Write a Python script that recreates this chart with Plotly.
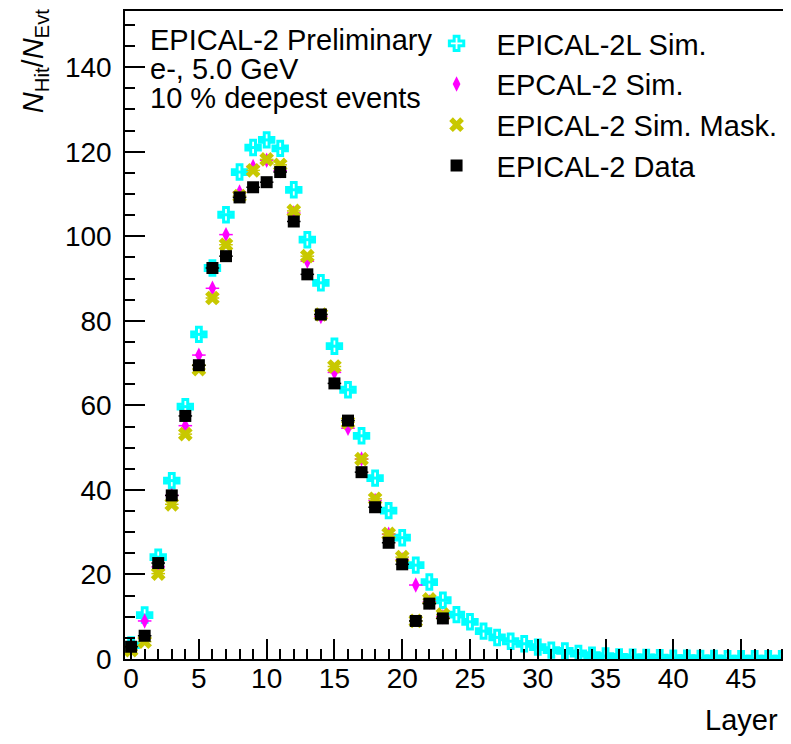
import plotly.graph_objects as go

layers_data = list(range(24))
layers_2l = list(range(49))

sim_2l = [3.3, 10.4, 24.1, 42.2, 59.7, 76.8, 92.5, 105.1, 115.2, 121.0, 122.8, 120.8,
          111.0, 99.2, 89.0, 74.0, 63.7, 52.8, 42.8, 35.1, 28.7, 22.2, 18.2, 13.9,
          10.5, 8.8, 6.6, 5.1, 4.2, 3.6, 2.8, 2.1, 1.9, 1.3, 0.9, 0.7, 0.5, 0.4,
          0.35, 0.3, 0.2, 0.2, 0.15, 0.15, 0.1, 0.1, 0.1, 0.1, 0.1]
sim_2 = [3.0, 9.0, 21.8, 38.7, 55.2, 71.9, 87.7, 100.4, 110.5, 116.5, 118.0, 115.5,
         105.5, 94.1, 81.0, 67.8, 54.6, 47.3, 37.5, 29.5, 23.5, 17.5, 13.5, 10.0]
sim_mask = [2.1, 4.1, 20.2, 36.6, 53.2, 68.6, 85.4, 98.0, 109.5, 115.6, 118.2, 116.9,
            106.0, 95.3, 81.5, 69.2, 56.0, 47.3, 37.9, 29.6, 24.1, 9.0, 14.1, 10.5]
data = [2.9, 5.5, 22.7, 38.7, 57.5, 69.5, 92.5, 95.3, 109.2, 111.6, 112.8, 115.2,
        103.5, 91.0, 81.5, 65.2, 56.4, 44.2, 35.9, 27.5, 22.4, 9.0, 13.1, 9.6]

info_lines = ["EPICAL-2 Preliminary", "e-, 5.0 GeV", "10 % deepest events"]

FONT = "Liberation Sans, Arial, sans-serif"

# page body has an 8px default margin; screen coords -> figure coords
PL, PT, PW, PH = 125, 9, 664, 650  # plot area in screen pixels


def px(xs):
    return (xs - PL) / PW


def py(ys):
    return (PT + PH - ys) / PH


fig = go.Figure()

fig.add_trace(go.Scatter(
    x=layers_2l, y=sim_2l, mode="markers", name="EPICAL-2L Sim.",
    marker=dict(symbol="cross-open", size=12, color="#00ffff",
                line=dict(width=3, color="#00ffff")),
    error_x=dict(type="constant", value=0.5, width=0, thickness=3, color="#00ffff")))
fig.add_trace(go.Scatter(
    x=layers_data, y=sim_2, mode="markers", name="EPCAL-2 Sim.",
    marker=dict(symbol="diamond-tall", size=11, color="#ff00ff", line=dict(width=0)),
    error_x=dict(type="constant", value=0.5, width=0, thickness=1.5, color="#ff00ff")))
fig.add_trace(go.Scatter(
    x=layers_data, y=sim_mask, mode="markers", name="EPICAL-2 Sim. Mask.",
    marker=dict(symbol="x", size=13, color="#c8c800", line=dict(width=0)),
    error_x=dict(type="constant", value=0.5, width=0, thickness=1.5, color="#c8c800")))
fig.add_trace(go.Scatter(
    x=layers_data, y=data, mode="markers", name="EPICAL-2 Data",
    marker=dict(symbol="square", size=12, color="black", line=dict(width=0)),
    error_x=dict(type="constant", value=0.5, width=0, thickness=1.5, color="black")))

annotations = []
for i, t in enumerate(info_lines):
    annotations.append(dict(
        text=t, xref="paper", yref="paper", x=px(148), y=py(38 + 29 * i),
        xanchor="left", yanchor="middle", showarrow=False,
        font=dict(family=FONT, size=29, color="black")))
annotations.append(dict(
    text="<i>N</i><sub>Hit</sub>/<i>N</i><sub>Evt</sub>", textangle=-90,
    xref="paper", yref="paper", x=px(35), y=py(5),
    xanchor="center", yanchor="top", showarrow=False,
    font=dict(family=FONT, size=29, color="black")))
annotations.append(dict(
    text="Layer", xref="paper", yref="paper", x=px(781), y=py(720),
    xanchor="right", yanchor="middle", showarrow=False,
    font=dict(family=FONT, size=29, color="black")))

fig.update_layout(
    width=783, height=736,
    margin=dict(l=PL - 8, r=783 - (PL - 8) - PW, t=PT - 8, b=736 - (PT - 8) - PH),
    paper_bgcolor="white", plot_bgcolor="white",
    font=dict(family=FONT, size=28, color="black"),
    showlegend=True,
    legend=dict(x=px(417), y=py(16), xanchor="left", yanchor="top",
                bgcolor="rgba(0,0,0,0)", itemwidth=70, tracegroupgap=0,
                font=dict(family=FONT, size=29, color="black")),
    annotations=annotations,
)
fig.update_xaxes(
    range=[-0.45, 48.46], showgrid=False, zeroline=False,
    showline=True, linecolor="black", linewidth=1.5, mirror=True,
    ticks="inside", ticklen=20, tickwidth=1.5, tickcolor="black",
    tick0=0, dtick=5,
    minor=dict(ticks="inside", ticklen=10, dtick=1, tickcolor="black", tickwidth=1.5),
    tickfont=dict(family=FONT, size=28, color="black"), ticklabelstandoff=-6)
fig.update_yaxes(
    range=[0, 153.3], showgrid=False, zeroline=False,
    showline=True, linecolor="black", linewidth=1.5, mirror=True,
    ticks="inside", ticklen=20, tickwidth=1.5, tickcolor="black",
    tick0=0, dtick=20,
    minor=dict(ticks="inside", ticklen=10, dtick=5, tickcolor="black", tickwidth=1.5),
    tickfont=dict(family=FONT, size=28, color="black"), ticklabelstandoff=6)

fig.write_html("out.html")
